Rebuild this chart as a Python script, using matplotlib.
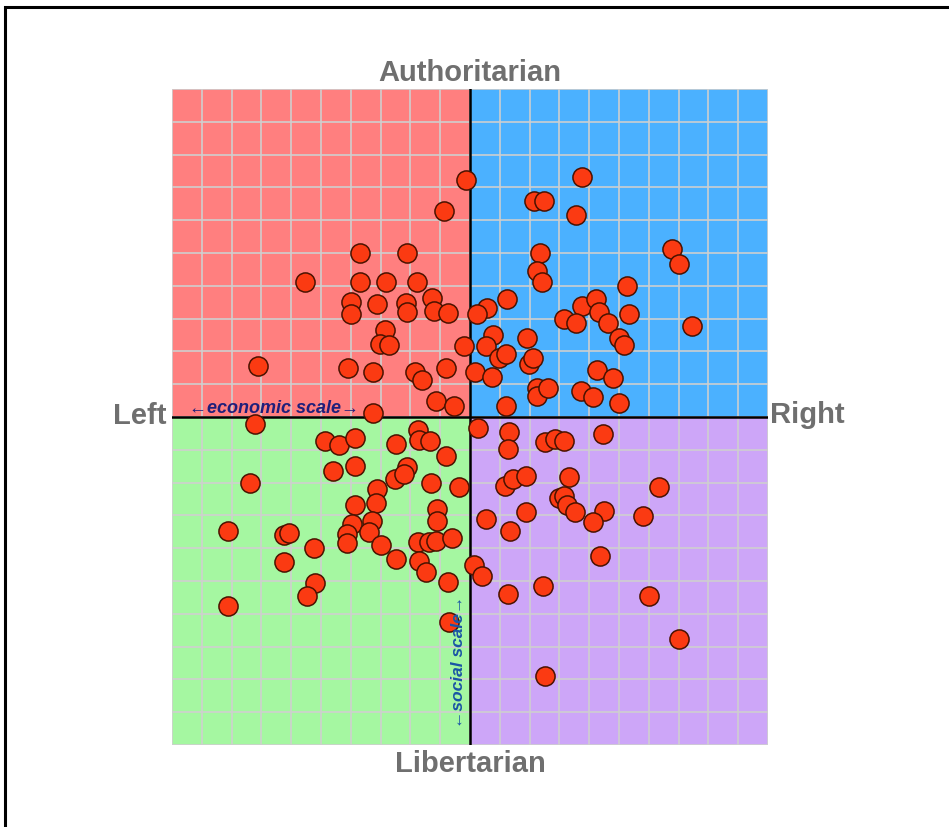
import matplotlib
matplotlib.use("Agg")
import matplotlib.pyplot as plt
from matplotlib.patches import Rectangle

# Political compass: economic (x, left/right) vs social (y, libertarian/authoritarian)
# Each axis runs from -10 to 10

# upper left (red)
econ_al = [-0.13, -0.88, -3.68, -2.11, -5.53, -3.68, -2.81, -1.78, -3.98, -3.98,
           -3.12, -2.15, -2.11, -1.28, -1.22, -0.74, -2.86, -3.01, -2.71, -0.21,
           -7.11, -4.10, -3.24, -1.86, -1.61, -0.80, -1.14, -0.55, -3.24]
soc_al = [7.23, 6.29, 4.99, 4.99, 4.11, 4.11, 4.11, 4.13, 3.52, 3.13,
          3.44, 3.48, 3.19, 3.62, 3.24, 3.16, 2.66, 2.23, 2.20, 2.17,
          1.56, 1.49, 1.36, 1.38, 1.14, 1.48, 0.50, 0.33, 0.11]

# upper right (blue)
econ_ar = [3.77, 2.15, 2.48, 3.55, 2.35, 2.26, 2.43, 6.77, 7.01, 5.26,
           1.25, 0.56, 0.24, 3.77, 4.22, 4.34, 5.34, 3.16, 3.55, 4.64,
           7.44, 0.78, 0.54, 1.90, 5.01, 5.17, 0.98, 1.21, 1.99, 2.12,
           0.16, 0.73, 4.25, 4.81, 2.24, 2.26, 2.63, 3.71, 4.14, 5.01, 1.21]
soc_ar = [7.33, 6.59, 6.59, 6.17, 4.99, 4.46, 4.11, 5.12, 4.66, 3.98,
          3.60, 3.33, 3.13, 3.39, 3.60, 3.19, 3.13, 2.99, 2.87, 2.86,
          2.78, 2.50, 2.17, 2.42, 2.41, 2.20, 1.79, 1.92, 1.61, 1.79,
          1.36, 1.21, 1.44, 1.19, 0.88, 0.65, 0.89, 0.80, 0.62, 0.43, 0.33]

# lower left (green)
econ_ll = [-7.20, -4.88, -4.39, -3.87, -2.48, -1.74, -1.72, -1.35, -0.80, -4.61,
           -3.87, -7.37, -2.53, -2.11, -2.22, -1.30, -0.38, -3.12, -3.15, -3.87,
           -1.11, -1.11, -8.12, -6.25, -6.08, -3.96, -4.13, -4.13, -3.29, -3.38,
           -2.98, -1.74, -1.38, -1.14, -0.60, -5.23, -6.24, -2.48, -1.72, -1.48,
           -0.74, -5.21, -5.47, -8.12, -0.69]
soc_ll = [-0.21, -0.74, -0.85, -0.63, -0.83, -0.39, -0.69, -0.74, -1.20, -1.65,
          -1.50, -2.01, -1.89, -1.53, -1.74, -2.01, -2.14, -2.20, -2.63, -2.68,
          -2.80, -3.16, -3.47, -3.60, -3.54, -3.26, -3.57, -3.84, -3.16, -3.50,
          -3.90, -3.80, -3.81, -3.78, -3.70, -4.00, -4.43, -4.33, -4.38, -4.72,
          -5.02, -5.06, -5.45, -5.75, -6.26]

# lower right (purple)
econ_lr = [0.27, 1.32, 1.27, 2.52, 2.85, 3.15, 4.45, 1.17, 1.45, 1.88,
           3.33, 6.35, 3.00, 3.15, 3.24, 3.52, 4.50, 4.14, 5.80, 0.54,
           1.88, 1.34, 4.36, 0.13, 0.39, 1.27, 2.46, 6.02, 7.02, 2.52]
soc_lr = [-0.33, -0.45, -0.98, -0.77, -0.67, -0.72, -0.51, -2.11, -1.89, -1.81,
          -1.84, -2.14, -2.48, -2.42, -2.68, -2.91, -2.87, -3.21, -3.01, -3.11,
          -2.89, -3.47, -4.23, -4.51, -4.84, -5.40, -5.14, -5.47, -6.77, -7.89]

econ = econ_al + econ_ar + econ_ll + econ_lr
soc = soc_al + soc_ar + soc_ll + soc_lr

quad_colors = {"al": "#ff7f7f", "ar": "#4bb1ff", "ll": "#a5f7a1", "lr": "#cda6f8"}
label_gray = "#6f6f6f"
font = ["Liberation Sans", "DejaVu Sans"]

fig = plt.figure(figsize=(9.49, 8.28), dpi=100)
fig.patch.set_facecolor("white")

# black frame, cut off at the right and bottom edges
fig.add_artist(Rectangle((5 / 949, -0.5), 2, 1.5 - 8 / 828, transform=fig.transFigure,
                         fill=False, edgecolor="black", lw=2.2))

ax = fig.add_axes([172 / 949, 1 - 746 / 828, 596 / 949, 656 / 828])
ax.set_xlim(-10, 10)
ax.set_ylim(-10, 10)

ax.add_patch(Rectangle((-10, 0), 10, 10, facecolor=quad_colors["al"], edgecolor="none", zorder=0))
ax.add_patch(Rectangle((0, 0), 10, 10, facecolor=quad_colors["ar"], edgecolor="none", zorder=0))
ax.add_patch(Rectangle((-10, -10), 10, 10, facecolor=quad_colors["ll"], edgecolor="none", zorder=0))
ax.add_patch(Rectangle((0, -10), 10, 10, facecolor=quad_colors["lr"], edgecolor="none", zorder=0))

ax.set_xticks(range(-10, 11))
ax.set_yticks(range(-10, 11))
ax.set_axisbelow(True)
ax.grid(True, color="#cfcfcf", lw=1.3, alpha=0.9)
ax.tick_params(length=0, labelbottom=False, labelleft=False)
for s in ax.spines.values():
    s.set_visible(False)

ax.axhline(0, color="black", lw=1.8, zorder=2)
ax.axvline(0, color="black", lw=1.8, zorder=2)

ax.scatter(econ, soc, s=190, c="#fb3a12", edgecolors="#4a1200", linewidths=1.1, zorder=3)

# quadrant labels
ax.text(0.5, 1.0137, "Authoritarian", transform=ax.transAxes, ha="center", va="baseline",
        fontsize=21, fontweight="bold", color=label_gray, family=font)
ax.text(0.5, -0.0396, "Libertarian", transform=ax.transAxes, ha="center", va="baseline",
        fontsize=21, fontweight="bold", color=label_gray, family=font)
ax.text(-0.01, (746 - 424) / 656, "Left", transform=ax.transAxes, ha="right", va="baseline",
        fontsize=21, fontweight="bold", color=label_gray, family=font)
ax.text(1.003, (746 - 423) / 656, "Right", transform=ax.transAxes, ha="left", va="baseline",
        fontsize=21, fontweight="bold", color=label_gray, family=font)

ax.text(-9.43, 0.14, "\u2190economic scale\u2192", ha="left", va="baseline",
        fontsize=13, fontweight="bold", fontstyle="italic", color="#1f1f7a", family=font, zorder=4)
ax.text(-0.12, -9.45, "\u2190social scale\u2192", ha="right", va="bottom", rotation=90,
        fontsize=12.5, fontweight="bold", fontstyle="italic", color="#1a55a5", family=font, zorder=4)

fig.savefig("out.png", dpi=100)
